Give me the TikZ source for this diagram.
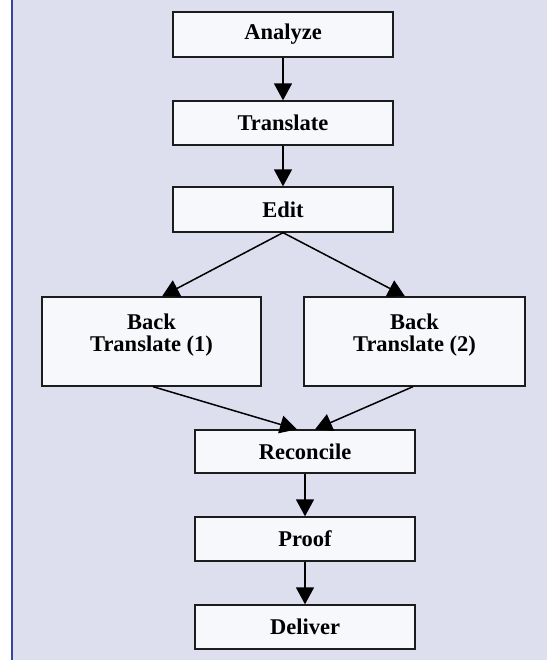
\documentclass[tikz,border=0pt]{standalone}
\usepackage{fontspec}
\setmainfont{Liberation Serif}
\usetikzlibrary{arrows.meta}
\definecolor{bgfill}{RGB}{221,223,239}
\definecolor{boxfill}{RGB}{247,248,252}
\definecolor{edgeblue}{RGB}{55,68,165}
\definecolor{boxline}{RGB}{28,28,28}
\tikzset{
  box/.style={draw=boxline, line width=1.3pt, fill=boxfill, minimum width=220pt, minimum height=44pt, inner sep=0pt,
    font=\bfseries\fontsize{22.5}{22}\selectfont, align=center},
  lbl/.style={font=\bfseries\fontsize{22.5}{22}\selectfont, align=center, inner sep=0pt},
  arr/.style={line width=1.5pt, -{Triangle[width=18pt,length=17pt]}}
}
\begin{document}
\begin{tikzpicture}[x=1pt,y=-1pt]
\useasboundingbox (0,0) rectangle (547,660);
\fill[white] (0,0) rectangle (547,660);
\fill[bgfill] (11.5,0) rectangle (547,660);
\draw[edgeblue, line width=2pt] (11.5,0) -- (11.5,660);

\node[box, minimum height=45pt] (analyze) at (283,34.5) {Analyze};
\node[box] (translate) at (283,123) {Translate};
\node[box, minimum height=45pt] (edit) at (283,209.5) {Edit};
\node[box, minimum width=219pt, minimum height=89pt,
  label={[lbl, yshift=6pt]center:Back\\Translate (1)}] (bt1) at (151.5,341.5) {};
\node[box, minimum width=221pt, minimum height=89pt,
  label={[lbl, yshift=6pt]center:Back\\Translate (2)}] (bt2) at (414.5,341.5) {};
\node[box, minimum height=43pt] (reconcile) at (305,451.5) {Reconcile};
\node[box] (proof) at (305,539) {Proof};
\node[box] (deliver) at (305,627) {Deliver};

\draw[arr] (analyze) -- (translate);
\draw[arr] (translate) -- (edit);
\draw[arr] (edit.south) -- ([xshift=10.5pt]bt1.north);
\draw[arr] (edit.south) -- ([xshift=-9.5pt]bt2.north);
\draw[arr] ([xshift=1.5pt]bt1.south) -- ([xshift=-8pt]reconcile.north);
\draw[arr] ([xshift=-1.5pt]bt2.south) -- ([xshift=10pt]reconcile.north);
\draw[arr] (reconcile) -- (proof);
\draw[arr] (proof) -- (deliver);
\end{tikzpicture}
\end{document}
